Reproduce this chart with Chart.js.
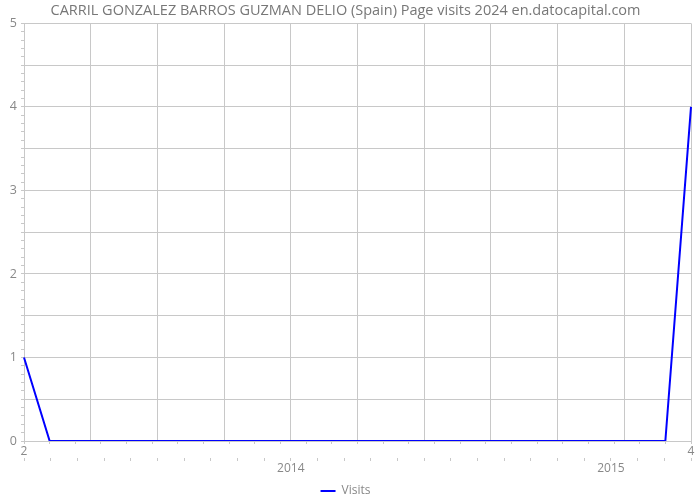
<!DOCTYPE html>
<html>
<head>
<meta charset="utf-8">
<script src="https://cdn.jsdelivr.net/npm/chart.js@4/dist/chart.umd.min.js"></script>
<style>
html,body{margin:0;padding:0;background:#fff;}
#wrap{width:700px;height:500px;}
</style>
</head>
<body>
<div id="wrap"><canvas id="c" width="700" height="500"></canvas></div>
<script>
const chartTitle = 'CARRIL GONZALEZ BARROS GUZMAN DELIO (Spain) Page visits 2024 en.datocapital.com';
const months = ['2013-02','2013-03','2013-04','2013-05','2013-06','2013-07','2013-08','2013-09','2013-10','2013-11','2013-12',
  '2014-01','2014-02','2014-03','2014-04','2014-05','2014-06','2014-07','2014-08','2014-09','2014-10','2014-11','2014-12',
  '2015-01','2015-02','2015-03','2015-04'];
const visits = [1,0,0,0,0,0,0,0,0,0,0,0,0,0,0,0,0,0,0,0,0,0,0,0,0,0,4];
const yearAxisLabels = ['','','','','','','','','','','2014','','','','','','','','','','','','2015','','',''];
const seriesName = 'Visits';

const GRID = '#c8c8c8';
const TXT = '#888888';
const FONT = "'Open Sans', 'DejaVu Sans', sans-serif";

const isMult = (v, m) => Math.abs(v / m - Math.round(v / m)) < 1e-6;

new Chart(document.getElementById('c'), {
  type: 'line',
  data: {
    labels: months,
    datasets: [{
      label: seriesName,
      data: visits,
      borderColor: '#0000ff',
      backgroundColor: '#0000ff',
      borderWidth: 2,
      pointRadius: 0,
      pointStyle: 'line',
      tension: 0,
      fill: false,
      xAxisID: 'x',
      yAxisID: 'y'
    }]
  },
  options: {
    responsive: false,
    animation: false,
    layout: { padding: { left: 0, right: 9, top: 0, bottom: -7 } },
    plugins: {
      title: {
        display: true,
        text: chartTitle,
        color: '#777777',
        font: { family: FONT, size: 14.5, weight: 'normal' },
        padding: { top: 2, bottom: 4 }
      },
      legend: {
        display: true,
        position: 'bottom',
        labels: {
          color: TXT,
          font: { family: FONT, size: 12 },
          usePointStyle: true,
          pointStyleWidth: 15,
          boxHeight: 11,
          padding: 3
        }
      },
      tooltip: { enabled: false }
    },
    scales: {
      xg: {
        type: 'linear',
        position: 'bottom',
        min: 0, max: 10,
        afterBuildTicks: s => { s.ticks = Array.from({length: 11}, (_, i) => ({value: i})); },
        grid: { color: GRID, drawTicks: false, lineWidth: 1 },
        border: { display: true, color: GRID },
        ticks: { display: false },
        afterFit: s => { s.height = 0; }
      },
      x: {
        type: 'category',
        position: 'bottom',
        offset: false,
        grid: { drawOnChartArea: false, drawTicks: true, tickLength: 3, color: GRID },
        border: { display: false },
        ticks: {
          autoSkip: false, maxRotation: 0, minRotation: 0,
          color: TXT, font: { family: FONT, size: 12 }, padding: 0,
          callback: function(v, i, arr) {
            if (i === 0 || i === arr.length - 1) {
              return String(parseInt(months[i].split('-')[1], 10));
            }
            return '';
          }
        },
        afterFit: s => { s.height = 17; }
      },
      xy: {
        type: 'linear',
        position: 'bottom',
        min: 0, max: yearAxisLabels.length - 1,
        afterBuildTicks: s => { s.ticks = yearAxisLabels.map((_, i) => ({value: i})); },
        grid: { drawOnChartArea: false, drawTicks: true, tickLength: 3, color: GRID },
        border: { display: false },
        ticks: {
          autoSkip: false, maxRotation: 0, minRotation: 0,
          color: TXT, font: { family: FONT, size: 12 }, padding: 0,
          callback: (v, i) => yearAxisLabels[i]
        },
        afterFit: s => { s.height = 24; }
      },
      y: {
        type: 'linear',
        min: 0, max: 5,
        afterBuildTicks: s => { s.ticks = Array.from({length: 51}, (_, i) => ({value: i / 10})); },
        grid: {
          color: ctx => isMult(ctx.tick.value, 0.5) ? GRID : 'rgba(0,0,0,0)',
          tickColor: GRID,
          tickLength: 3,
          drawTicks: true
        },
        border: { display: true, color: GRID },
        ticks: {
          autoSkip: false,
          color: TXT, font: { family: FONT, size: 12.5 }, padding: 4,
          callback: v => isMult(v, 1) ? String(Math.round(v)) : ''
        },
        afterFit: s => { s.width = 24; }
      }
    }
  }
});
</script>
</body>
</html>
